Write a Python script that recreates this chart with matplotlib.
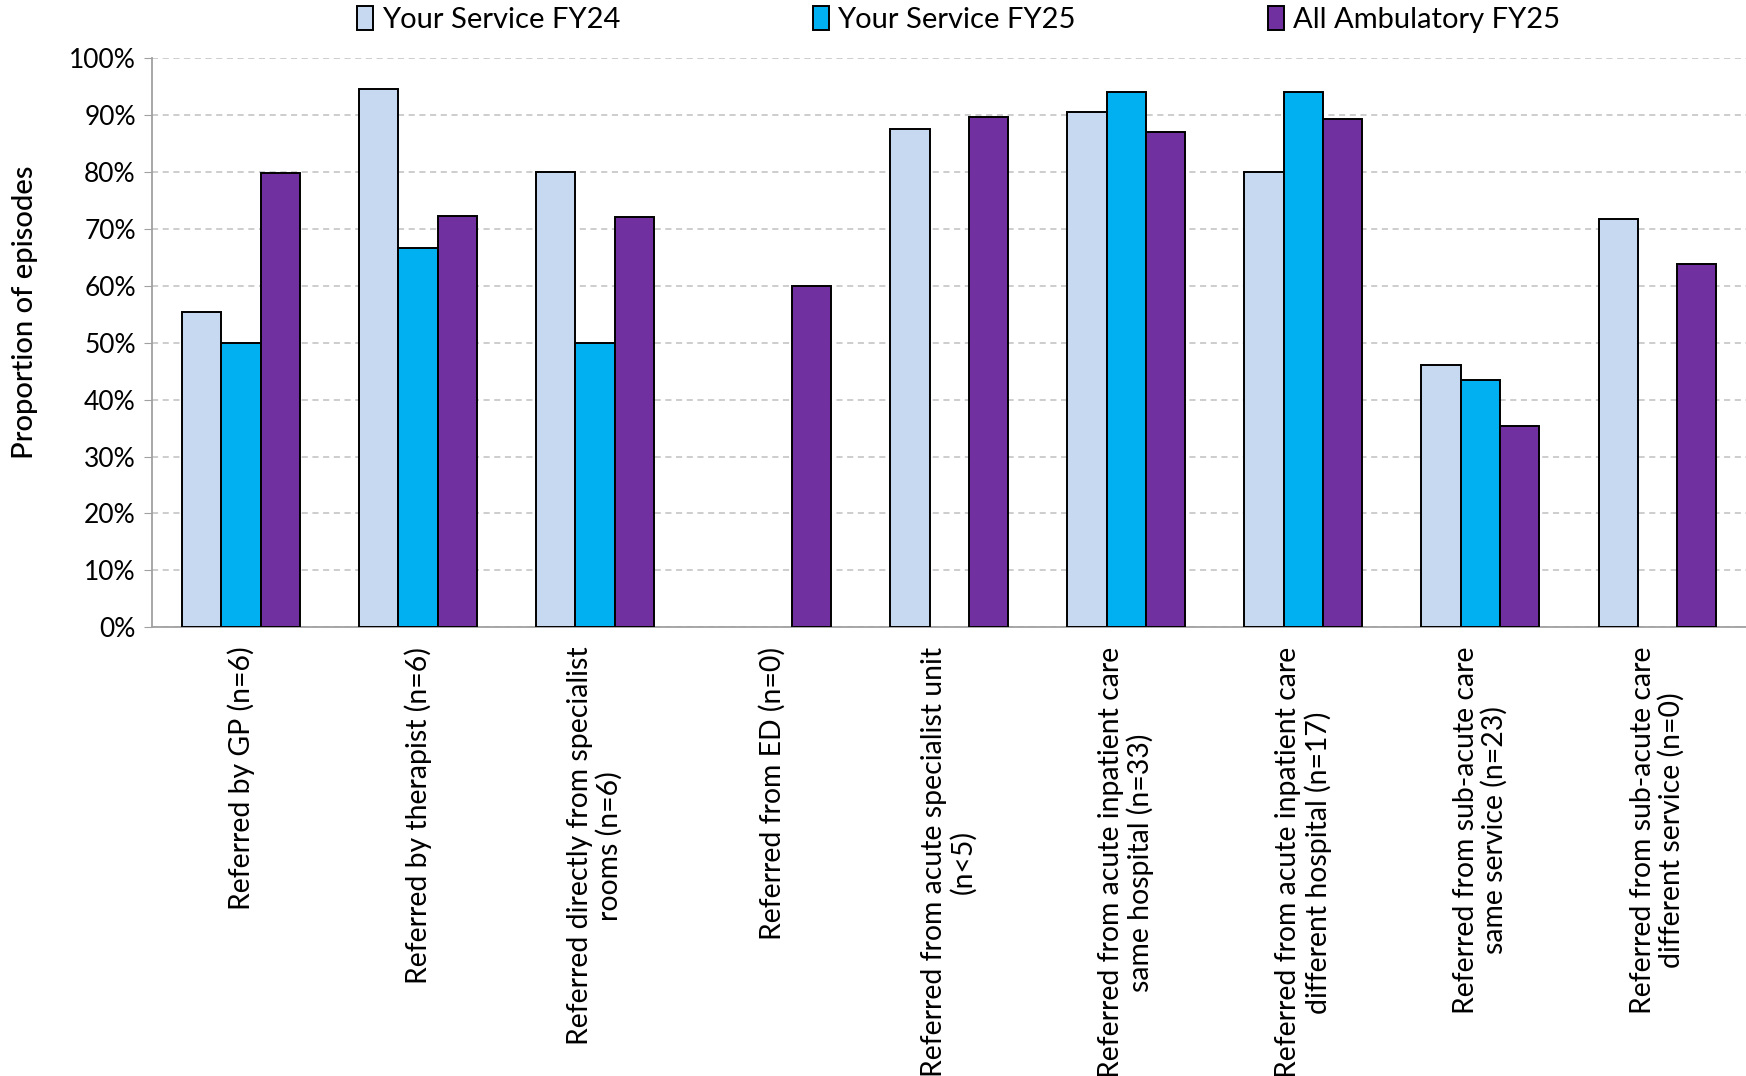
"""Referral source bar chart - proportion of episodes by service"""
import numpy as np
from matplotlib import pyplot as plt

plt.rcParams['font.family'] = ['Lato', 'DejaVu Sans']

# data (nan = no bar)
categories = [
    "Referred by GP (n=6)",
    "Referred by therapist (n=6)",
    "Referred directly from specialist\nrooms (n=6)",
    "Referred from ED (n=0)",
    "Referred from acute specialist unit\n(n<5)",
    "Referred from acute inpatient care\nsame hospital (n=33)",
    "Referred from acute inpatient care\ndifferent hospital (n=17)",
    "Referred from sub-acute care\nsame service (n=23)",
    "Referred from sub-acute care\ndifferent service (n=0)",
]
series_names = ["Your Service FY24", "Your Service FY25", "All Ambulatory FY25"]
fy24 = [55.4, 94.5, 80.0, np.nan, 87.5, 90.6, 80.0, 46.0, 71.7]
fy25 = [50.0, 66.7, 50.0, np.nan, np.nan, 94.1, 94.1, 43.5, np.nan]
all_amb = [79.8, 72.3, 72.0, 60.0, 89.6, 87.1, 89.3, 35.4, 63.9]
colors = ['#C6D9F0', '#00B0F0', '#7030A0']

fig = plt.figure(figsize=(17.46, 10.76), dpi=100)
ax = fig.add_axes([0.0873, 0.417, 0.9127, 0.529])

x = np.arange(len(categories))
w = 0.222
for i, (vals, name, c) in enumerate(zip([fy24, fy25, all_amb], series_names, colors)):
    ax.bar(x + (i - 1) * w, vals, width=w, color=c, edgecolor='black',
           linewidth=1.4, label=name, zorder=3)

ax.set_xlim(-0.5, len(categories) - 0.5)
ax.set_ylim(0, 100)
ax.set_yticks(range(0, 101, 10))
ax.set_yticklabels([f"{v}%" for v in range(0, 101, 10)], fontsize=19)
ax.set_xticks(x)
ax.set_xticklabels(categories, rotation=90, fontsize=20.4, va='top', ha='center',
                   multialignment='center', linespacing=1.12)
ax.tick_params(axis='x', length=0, pad=14)
ax.tick_params(axis='y', length=6, color='#A0A0A0', pad=6)

ax.grid(axis='y', linestyle=(0, (4, 3)), color='#C0C0C0', linewidth=1.1, zorder=0)
for s in ['top', 'right']:
    ax.spines[s].set_visible(False)
ax.spines['left'].set_color('#A0A0A0')
ax.spines['bottom'].set_color('#A0A0A0')
ax.spines['left'].set_linewidth(1.3)
ax.spines['bottom'].set_linewidth(1.3)

fig.text(0.0143, 0.71, "Proportion of episodes", rotation=90, ha='center',
         va='center', fontsize=21, fontweight='medium')

fig.legend(loc='center', bbox_to_anchor=(0.549, 0.982), ncol=3, frameon=False,
           fontsize=21, handlelength=0.55, handleheight=0.9, handletextpad=0.3,
           columnspacing=6.6)

plt.savefig('out.png', dpi=100)
